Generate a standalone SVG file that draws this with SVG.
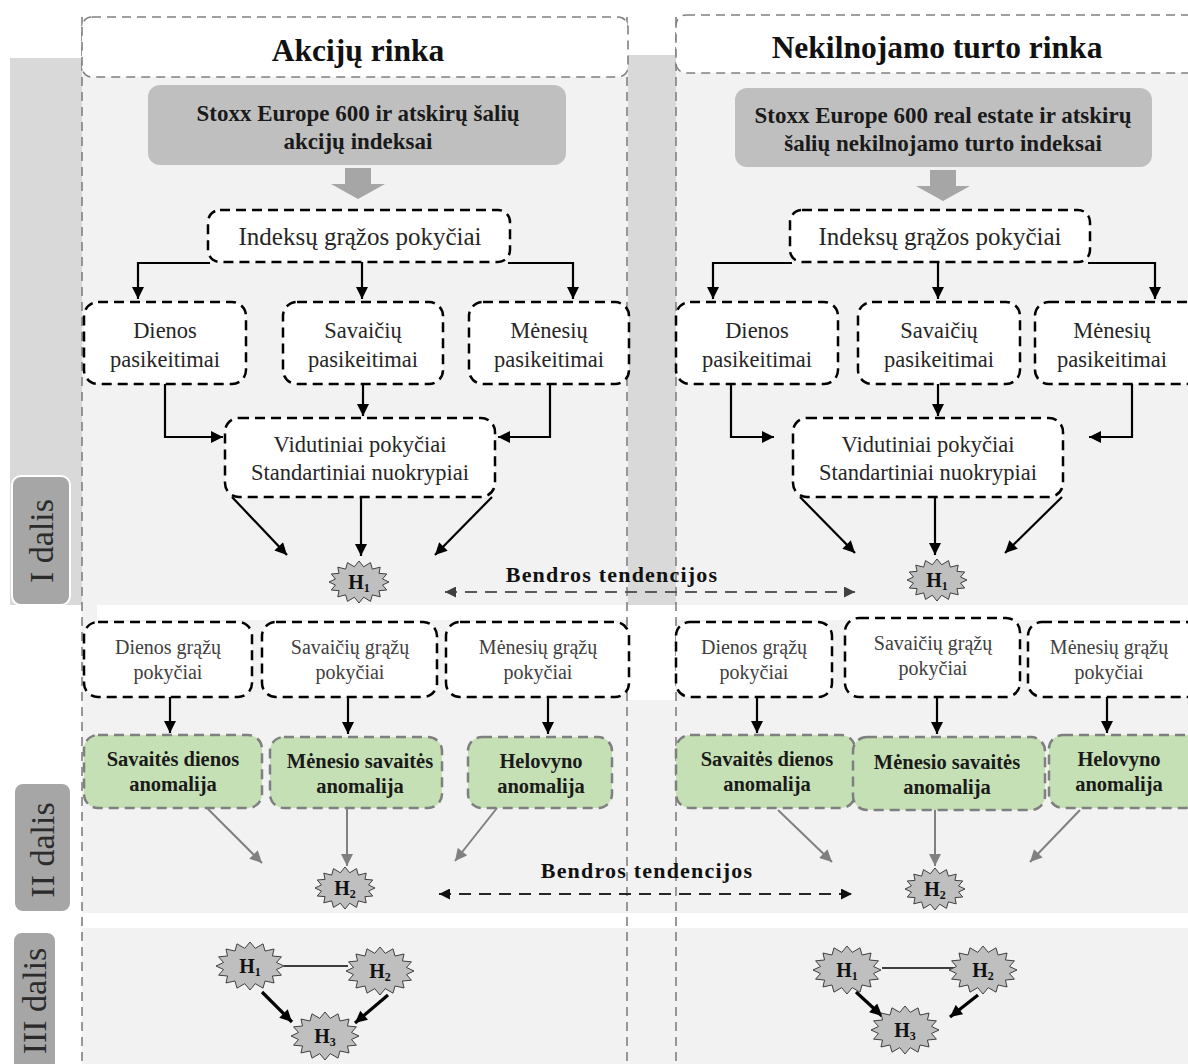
<svg xmlns="http://www.w3.org/2000/svg" xmlns:xlink="http://www.w3.org/1999/xlink" width="1188" height="1064" viewBox="0 0 1188 1064">
<defs>
<style>
text{font-family:"Liberation Serif","Times New Roman",serif;text-anchor:middle}
.hdr{font-size:31.5px;font-weight:bold;fill:#111}
.gb{font-size:23px;font-weight:bold;fill:#1a1a1a}
.t0{font-size:25px;fill:#262626}
.t1{font-size:22.5px;fill:#262626}
.t2{font-size:20px;fill:#404040}
.tg{font-size:20.5px;font-weight:bold;fill:#1a1a1a}
.bt{font-size:22px;font-weight:bold;fill:#111;letter-spacing:1.2px}
.lab{font-size:34px;fill:#2b2b2b}
.hs{font-size:20px;font-weight:bold;fill:#111}
.box{fill:#fff;stroke:#000;stroke-width:2.5;stroke-dasharray:10 6}
.green{fill:#c5e0b4;stroke:#7f7f7f;stroke-width:2.5;stroke-dasharray:10 6}
.pan{fill:none;stroke:#808080;stroke-width:1.6;stroke-dasharray:9 6}
.hbox{fill:#fff;stroke:#808080;stroke-width:1.6;stroke-dasharray:9 6}
.ab{fill:none;stroke:#000;stroke-width:2.2;marker-end:url(#mb)}
.ag{fill:none;stroke:#808080;stroke-width:2;marker-end:url(#mg)}
.at{fill:none;stroke:#000;stroke-width:3.2;marker-end:url(#mb)}
.star{fill:#bfbfbf;stroke:#404040;stroke-width:1}
</style>
<marker id="mb" viewBox="0 0 10 10" refX="10" refY="5" markerWidth="13" markerHeight="12" markerUnits="userSpaceOnUse" orient="auto-start-reverse"><path d="M0,0 L10,5 L0,10 z" fill="#000"/></marker>
<marker id="mg" viewBox="0 0 10 10" refX="10" refY="5" markerWidth="13" markerHeight="12" markerUnits="userSpaceOnUse" orient="auto-start-reverse"><path d="M0,0 L10,5 L0,10 z" fill="#808080"/></marker>
<marker id="md1" viewBox="0 0 10 10" refX="10" refY="5" markerWidth="13" markerHeight="11" markerUnits="userSpaceOnUse" orient="auto-start-reverse"><path d="M0,0 L10,5 L0,10 z" fill="#404040"/></marker>
<marker id="md2" viewBox="0 0 10 10" refX="10" refY="5" markerWidth="13" markerHeight="11" markerUnits="userSpaceOnUse" orient="auto-start-reverse"><path d="M0,0 L10,5 L0,10 z" fill="#111"/></marker>
<polygon id="star" class="star" points="34,0 26.48,3.51 31.41,9.18 22.45,10 24.04,16.97 15,14.97 13.01,22.17 5.27,17.65 0,24 -5.27,17.65 -13.01,22.17 -15,14.97 -24.04,16.97 -22.45,10 -31.41,9.18 -26.48,3.51 -34,0 -26.48,-3.51 -31.41,-9.18 -22.45,-10 -24.04,-16.97 -15,-14.97 -13.01,-22.17 -5.27,-17.65 0,-24 5.27,-17.65 13.01,-22.17 15,-14.97 24.04,-16.97 22.45,-10 31.41,-9.18 26.48,-3.51"/>
<polygon id="stars" class="star" points="30,0 23.54,3.02 27.72,8.04 19.96,8.61 21.21,14.85 13.33,12.89 11.48,19.4 4.68,15.2 0,21 -4.68,15.2 -11.48,19.4 -13.33,12.89 -21.21,14.85 -19.96,8.61 -27.72,8.04 -23.54,3.02 -30,0 -23.54,-3.02 -27.72,-8.04 -19.96,-8.61 -21.21,-14.85 -13.33,-12.89 -11.48,-19.4 -4.68,-15.2 0,-21 4.68,-15.2 11.48,-19.4 13.33,-12.89 21.21,-14.85 19.96,-8.61 27.72,-8.04 23.54,-3.02"/>
</defs>

<!-- backgrounds -->
<g id="background">
<rect x="82" y="58" width="1106" height="547" fill="#f2f2f2"/>
<rect x="10" y="58" width="72" height="547" fill="#d9d9d9"/>
<rect x="628" y="55" width="48" height="550" fill="#d9d9d9"/>
<rect x="82" y="605" width="1106" height="308" fill="#f2f2f2"/>
<rect x="97" y="605" width="1091" height="15" fill="#fff"/>
<rect x="628" y="605" width="48" height="95" fill="#fff"/>
<rect x="82" y="928" width="1106" height="136" fill="#f2f2f2"/>
</g>

<g id="panel-lines">
<line class="pan" x1="82" y1="17" x2="82" y2="1064"/>
<line class="pan" x1="627" y1="17" x2="627" y2="1064"/>
<line class="pan" x1="676" y1="17" x2="676" y2="1064"/>
</g>

<g id="header-left"><rect class="hbox" x="82" y="17" width="546" height="60" rx="10"/><text class="hdr" x="358" y="61">Akcijų rinka</text></g>
<g id="header-right"><rect class="hbox" x="676" y="15" width="530" height="58" rx="10"/><text class="hdr" x="937" y="58">Nekilnojamo turto rinka</text></g>

<g id="label-I"><rect x="12" y="476" width="58" height="129" rx="9" fill="#a6a6a6" stroke="#fff" stroke-width="2"/><text class="lab" transform="translate(53,541) rotate(-90)">I dalis</text></g>
<g id="label-II"><rect x="14" y="783" width="57" height="129" rx="9" fill="#a6a6a6" stroke="#fff" stroke-width="2"/><text class="lab" transform="translate(54,850) rotate(-90)">II dalis</text></g>
<g id="label-III"><rect x="13" y="932" width="43" height="140" rx="9" fill="#a6a6a6" stroke="#fff" stroke-width="2"/><text class="lab" transform="translate(46,1001) rotate(-90)">III dalis</text></g>

<!-- connectors -->
<g id="connectors">
<polygon points="345,168 371,168 371,184 385,184 358,199 331,184 345,184" fill="#a6a6a6"/>
<polygon points="930,170 956,170 956,186 970,186 943,201 916,186 930,186" fill="#a6a6a6"/>
<polyline class="ab" points="210,263 138,263 138,299"/>
<line class="ab" x1="362" y1="262" x2="362" y2="299"/>
<polyline class="ab" points="508,263 573,263 573,299"/>
<polyline class="ab" points="165,384 165,437 223,437"/>
<line class="ab" x1="363" y1="384" x2="363" y2="416"/>
<polyline class="ab" points="550,384 550,437 498,437"/>
<line class="ab" x1="232" y1="497" x2="287" y2="555"/>
<line class="ab" x1="361" y1="497" x2="361" y2="556"/>
<line class="ab" x1="492" y1="497" x2="435" y2="555"/>

<polyline class="ab" points="792,263 713,263 713,299"/>
<line class="ab" x1="938" y1="262" x2="938" y2="299"/>
<polyline class="ab" points="1088,263 1155,263 1155,299"/>
<polyline class="ab" points="731,384 731,437 774,437"/>
<line class="ab" x1="938" y1="384" x2="938" y2="416"/>
<polyline class="ab" points="1132,384 1132,437 1089,437"/>
<line class="ab" x1="800" y1="497" x2="855" y2="553"/>
<line class="ab" x1="935" y1="497" x2="935" y2="555"/>
<line class="ab" x1="1062" y1="497" x2="1005" y2="553"/>

<line x1="445" y1="592" x2="855" y2="592" stroke="#595959" stroke-width="2" stroke-dasharray="12 8" marker-start="url(#md1)" marker-end="url(#md1)"/>

<line class="ab" x1="170" y1="697" x2="170" y2="733"/>
<line class="ab" x1="348" y1="697" x2="348" y2="734"/>
<line class="ab" x1="548" y1="697" x2="548" y2="734"/>
<line class="ab" x1="757" y1="697" x2="757" y2="733"/>
<line class="ab" x1="937" y1="697" x2="937" y2="734"/>
<line class="ab" x1="1107" y1="697" x2="1107" y2="733"/>

<line class="ag" x1="207" y1="808" x2="262" y2="863"/>
<line class="ag" x1="347" y1="808" x2="347" y2="866"/>
<line class="ag" x1="497" y1="808" x2="455" y2="861"/>
<line class="ag" x1="778" y1="810" x2="832" y2="862"/>
<line class="ag" x1="935" y1="810" x2="935" y2="866"/>
<line class="ag" x1="1080" y1="810" x2="1030" y2="862"/>

<line x1="439" y1="894" x2="852" y2="894" stroke="#262626" stroke-width="2" stroke-dasharray="12 8" marker-start="url(#md2)" marker-end="url(#md2)"/>

<line x1="284" y1="966" x2="348" y2="966" stroke="#000" stroke-width="1.5"/>
<line class="at" x1="262" y1="992" x2="292" y2="1022"/>
<line class="at" x1="388" y1="995" x2="355" y2="1023"/>
<line x1="882" y1="968" x2="955" y2="968" stroke="#000" stroke-width="1.5"/>
<line class="at" x1="856" y1="992" x2="882" y2="1016"/>
<line class="at" x1="978" y1="995" x2="950" y2="1017"/>
</g>

<g id="bt-1"><text class="bt" x="612" y="582">Bendros tendencijos</text></g>
<g id="bt-2"><text class="bt" x="647" y="878">Bendros tendencijos</text></g>

<!-- left panel nodes -->
<g id="L-src"><rect x="148" y="85" width="418" height="80" rx="12" fill="#bfbfbf"/><text class="gb" x="358" y="121">Stoxx Europe 600 ir atskirų šalių</text><text class="gb" x="358" y="149">akcijų indeksai</text></g>
<g id="L-idx"><rect class="box" x="208" y="210" width="302" height="52" rx="12"/><text class="t0" x="360" y="245">Indeksų grąžos pokyčiai</text></g>
<g id="L-d"><rect class="box" x="84" y="302" width="162" height="82" rx="14"/><text class="t1" x="165" y="338">Dienos</text><text class="t1" x="165" y="367">pasikeitimai</text></g>
<g id="L-w"><rect class="box" x="283" y="302" width="160" height="82" rx="14"/><text class="t1" x="363" y="338">Savaičių</text><text class="t1" x="363" y="367">pasikeitimai</text></g>
<g id="L-m"><rect class="box" x="469" y="302" width="160" height="82" rx="14"/><text class="t1" x="549" y="338">Mėnesių</text><text class="t1" x="549" y="367">pasikeitimai</text></g>
<g id="L-avg"><rect class="box" x="225" y="418" width="270" height="79" rx="14"/><text class="t1" x="360" y="452">Vidutiniai pokyčiai</text><text class="t1" x="360" y="480">Standartiniai nuokrypiai</text></g>
<g id="L-H1"><use xlink:href="#stars" href="#stars" x="359" y="582"/><text class="hs" x="359" y="589">H<tspan font-size="12" dy="3">1</tspan></text></g>

<g id="L-dg"><rect class="box" x="84" y="622" width="168" height="75" rx="14"/><text class="t2" x="168" y="654">Dienos grąžų</text><text class="t2" x="168" y="679">pokyčiai</text></g>
<g id="L-wg"><rect class="box" x="262" y="622" width="175" height="75" rx="14"/><text class="t2" x="350" y="654">Savaičių grąžų</text><text class="t2" x="350" y="679">pokyčiai</text></g>
<g id="L-mg"><rect class="box" x="446" y="622" width="183" height="75" rx="14"/><text class="t2" x="538" y="654">Mėnesių grąžų</text><text class="t2" x="538" y="679">pokyčiai</text></g>
<g id="L-a1"><rect class="green" x="84" y="735" width="178" height="73" rx="14"/><text class="tg" x="173" y="766">Savaitės dienos</text><text class="tg" x="173" y="791">anomalija</text></g>
<g id="L-a2"><rect class="green" x="270" y="737" width="172" height="71" rx="14"/><text class="tg" x="360" y="768">Mėnesio savaitės</text><text class="tg" x="360" y="793">anomalija</text></g>
<g id="L-a3"><rect class="green" x="468" y="737" width="144" height="71" rx="14"/><text class="tg" x="541" y="768">Helovyno</text><text class="tg" x="541" y="793">anomalija</text></g>
<g id="L-H2"><use xlink:href="#stars" href="#stars" x="345" y="888"/><text class="hs" x="345" y="895">H<tspan font-size="12" dy="3">2</tspan></text></g>

<g id="L-III-H1"><use xlink:href="#star" href="#star" x="250" y="966"/><text class="hs" x="250" y="973">H<tspan font-size="12" dy="3">1</tspan></text></g>
<g id="L-III-H2"><use xlink:href="#star" href="#star" x="380" y="971"/><text class="hs" x="380" y="978">H<tspan font-size="12" dy="3">2</tspan></text></g>
<g id="L-III-H3"><use xlink:href="#star" href="#star" x="325" y="1036"/><text class="hs" x="325" y="1043">H<tspan font-size="12" dy="3">3</tspan></text></g>

<!-- right panel nodes -->
<g id="R-src"><rect x="735" y="88" width="417" height="79" rx="12" fill="#bfbfbf"/><text class="gb" x="943" y="123">Stoxx Europe 600 real estate ir atskirų</text><text class="gb" x="943" y="151">šalių nekilnojamo turto indeksai</text></g>
<g id="R-idx"><rect class="box" x="790" y="210" width="300" height="52" rx="12"/><text class="t0" x="940" y="245">Indeksų grąžos pokyčiai</text></g>
<g id="R-d"><rect class="box" x="676" y="302" width="162" height="82" rx="14"/><text class="t1" x="757" y="338">Dienos</text><text class="t1" x="757" y="367">pasikeitimai</text></g>
<g id="R-w"><rect class="box" x="858" y="302" width="162" height="82" rx="14"/><text class="t1" x="939" y="338">Savaičių</text><text class="t1" x="939" y="367">pasikeitimai</text></g>
<g id="R-m"><rect class="box" x="1035" y="302" width="165" height="82" rx="14"/><text class="t1" x="1112" y="338">Mėnesių</text><text class="t1" x="1112" y="367">pasikeitimai</text></g>
<g id="R-avg"><rect class="box" x="793" y="418" width="270" height="79" rx="14"/><text class="t1" x="928" y="452">Vidutiniai pokyčiai</text><text class="t1" x="928" y="480">Standartiniai nuokrypiai</text></g>
<g id="R-H1"><use xlink:href="#stars" href="#stars" x="937" y="580"/><text class="hs" x="937" y="587">H<tspan font-size="12" dy="3">1</tspan></text></g>

<g id="R-dg"><rect class="box" x="676" y="622" width="156" height="75" rx="14"/><text class="t2" x="754" y="654">Dienos grąžų</text><text class="t2" x="754" y="679">pokyčiai</text></g>
<g id="R-wg"><rect class="box" x="845" y="618" width="175" height="79" rx="14"/><text class="t2" x="933" y="650">Savaičių grąžų</text><text class="t2" x="933" y="675">pokyčiai</text></g>
<g id="R-mg"><rect class="box" x="1028" y="622" width="172" height="75" rx="14"/><text class="t2" x="1109" y="654">Mėnesių grąžų</text><text class="t2" x="1109" y="679">pokyčiai</text></g>
<g id="R-a1"><rect class="green" x="676" y="735" width="179" height="73" rx="14"/><text class="tg" x="767" y="766">Savaitės dienos</text><text class="tg" x="767" y="791">anomalija</text></g>
<g id="R-a2"><rect class="green" x="853" y="737" width="192" height="73" rx="14"/><text class="tg" x="947" y="769">Mėnesio savaitės</text><text class="tg" x="947" y="794">anomalija</text></g>
<g id="R-a3"><rect class="green" x="1049" y="735" width="150" height="73" rx="14"/><text class="tg" x="1119" y="766">Helovyno</text><text class="tg" x="1119" y="791">anomalija</text></g>
<g id="R-H2"><use xlink:href="#stars" href="#stars" x="935" y="889"/><text class="hs" x="935" y="896">H<tspan font-size="12" dy="3">2</tspan></text></g>

<g id="R-III-H1"><use xlink:href="#star" href="#star" x="847" y="970"/><text class="hs" x="847" y="977">H<tspan font-size="12" dy="3">1</tspan></text></g>
<g id="R-III-H2"><use xlink:href="#star" href="#star" x="983" y="970"/><text class="hs" x="983" y="977">H<tspan font-size="12" dy="3">2</tspan></text></g>
<g id="R-III-H3"><use xlink:href="#star" href="#star" x="905" y="1030"/><text class="hs" x="905" y="1037">H<tspan font-size="12" dy="3">3</tspan></text></g>
</svg>
